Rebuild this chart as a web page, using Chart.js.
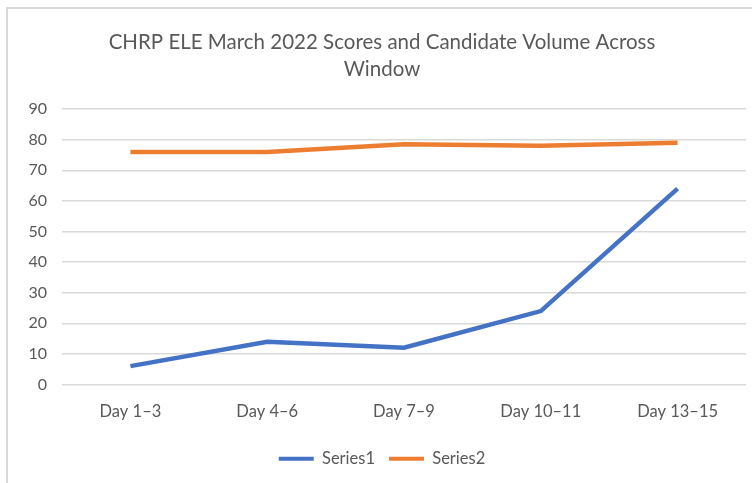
<!DOCTYPE html>
<html><head><meta charset="utf-8">
<script src="https://cdn.jsdelivr.net/npm/chart.js@4.4.0/dist/chart.umd.min.js"></script>
<style>html,body{margin:0;padding:0;background:#fff}#wrap{width:752px;height:483px;position:relative}</style>
</head><body><div id="wrap"><canvas id="c" width="752" height="483"></canvas></div>
<script>
const categories = ["Day 1\u20133", "Day 4\u20136", "Day 7\u20139", "Day 10\u201311", "Day 13\u201315"];
const series1 = [6, 14, 12, 24, 64];
const series2 = [76, 76, 78.5, 78, 79];
const seriesNames = ["Series1", "Series2"];
const titleLines = ["CHRP ELE March 2022 Scores and Candidate Volume Across", "Window"];

const FONT = "Lato, 'Open Sans', sans-serif";
const frame = {
  id: 'frame',
  beforeDraw(chart) {
    const ctx = chart.ctx;
    ctx.save();
    ctx.fillStyle = '#fff';
    ctx.fillRect(0, 0, chart.width, chart.height);
    ctx.strokeStyle = '#d9d9d9';
    ctx.lineWidth = 2;
    ctx.beginPath();
    ctx.moveTo(7, chart.height);
    ctx.lineTo(7, 8);
    ctx.lineTo(chart.width, 8);
    ctx.stroke();
    ctx.restore();
  }
};
new Chart(document.getElementById('c'), {
  type: 'line',
  data: {
    labels: categories,
    datasets: [
      {label: seriesNames[0], data: series1, borderColor: '#4472C4', backgroundColor: '#4472C4', borderWidth: 4.5, pointRadius: 0, tension: 0},
      {label: seriesNames[1], data: series2, borderColor: '#ED7D31', backgroundColor: '#ED7D31', borderWidth: 4.5, pointRadius: 0, tension: 0}
    ]
  },
  options: {
    responsive: false,
    animation: false,
    layout: {padding: {left: 18, right: 6, top: 0, bottom: 6}},
    plugins: {
      title: {display: true, text: titleLines, color: '#595959', font: {family: FONT, size: 20.5, weight: 'normal', lineHeight: 1.32}, padding: {top: 29, bottom: 26}},
      legend: {
        position: 'bottom',
        labels: {
          color: '#595959', font: {family: FONT, size: 16.5}, boxWidth: 35, boxHeight: 4, padding: 14,
          generateLabels(chart) {
            return chart.data.datasets.map((d, i) => ({text: d.label, fillStyle: d.borderColor, strokeStyle: d.borderColor, lineWidth: 0, datasetIndex: i, fontColor: '#595959'}));
          }
        }
      },
      tooltip: {enabled: false}
    },
    scales: {
      x: {
        offset: true,
        afterFit(s) { s.height = 52; },
        grid: {display: false},
        border: {display: false},
        ticks: {color: '#595959', font: {family: FONT, size: 16.5}, padding: 9, maxRotation: 0}
      },
      y: {
        min: 0, max: 90,
        afterFit(s) { s.width = 44; },
        grid: {color: '#d9d9d9', lineWidth: 1.5, drawTicks: false},
        border: {display: false},
        ticks: {stepSize: 10, color: '#595959', font: {family: FONT, size: 16}, padding: 15}
      }
    }
  },
  plugins: [frame]
});
</script></body></html>
